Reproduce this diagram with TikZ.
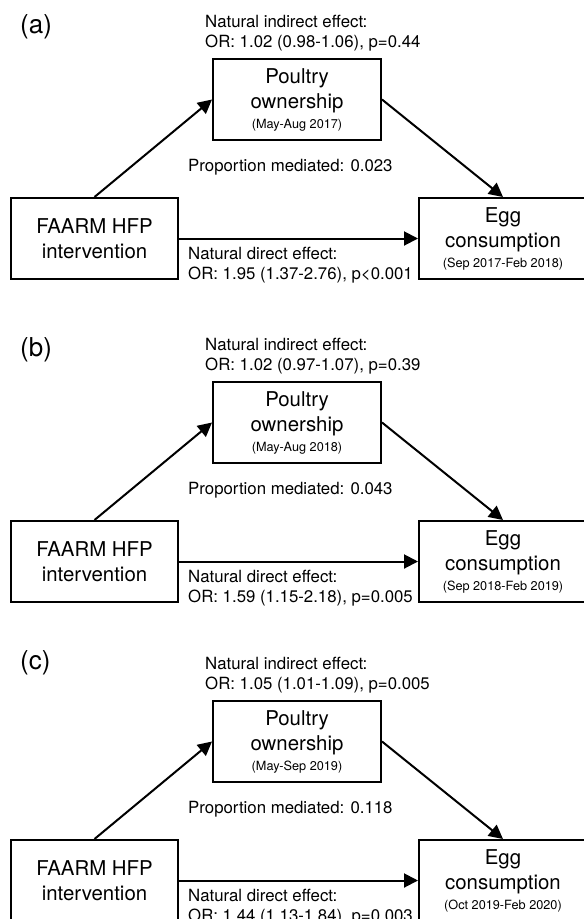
\documentclass[tikz,border=0pt]{standalone}
\usepackage{fontspec}
\setmainfont{TeX Gyre Heros}
\usetikzlibrary{arrows.meta}
\newcommand\period[1]{\\[-5pt]{\fontsize{12.7}{15}\selectfont #1}}
\begin{document}
\begin{tikzpicture}[x=1pt,y=-1pt,
box/.style={draw,line width=2pt,minimum width=168pt,minimum height=81pt,inner sep=0pt,align=center,font=\fontsize{20.4}{25}\selectfont},
eff/.style={anchor=north west,inner sep=0pt,align=left,font=\fontsize{16.8}{20}\selectfont},
lab/.style={anchor=west,inner sep=0pt,font=\fontsize{26}{30}\selectfont},
arr/.style={line width=2pt,-{Triangle[length=14pt,width=14pt]}}]
\useasboundingbox(0,0)rectangle(584,919);
\clip(0,0)rectangle(584,919);
\begin{scope}
\node[lab](labA)at(20,27){(a)};
\node[eff](nieA)at(205,15){Natural indirect effect:\\OR: 1.02 (0.98-1.06), p=0.44};
\node[box](pouA)at(297,99.5){Poultry\\ownership\period{(May-Aug 2017)}};
\node[eff,anchor=west](pmA)at(188,167){Proportion mediated: 0.023};
\node[box,minimum width=167pt](farA)at(94.5,238.5){FAARM HFP\\intervention};
\node[box](eggA)at(503,238.5){Egg\\consumption\period{(Sep 2017-Feb 2018)}};
\node[eff](ndeA)at(188,247){Natural direct effect:\\OR: 1.95 (1.37-2.76), p<0.001};
\draw[arr](farA.north)--(pouA.west);
\draw[arr](pouA.east)--(eggA.north);
\draw[arr](farA)--(eggA);
\end{scope}
\begin{scope}[shift={(0,323)}]
\node[lab](labB)at(20,27){(b)};
\node[eff](nieB)at(205,15){Natural indirect effect:\\OR: 1.02 (0.97-1.07), p=0.39};
\node[box](pouB)at(297,99.5){Poultry\\ownership\period{(May-Aug 2018)}};
\node[eff,anchor=west](pmB)at(188,167){Proportion mediated: 0.043};
\node[box,minimum width=167pt](farB)at(94.5,238.5){FAARM HFP\\intervention};
\node[box](eggB)at(503,238.5){Egg\\consumption\period{(Sep 2018-Feb 2019)}};
\node[eff](ndeB)at(188,247){Natural direct effect:\\OR: 1.59 (1.15-2.18), p=0.005};
\draw[arr](farB.north)--(pouB.west);
\draw[arr](pouB.east)--(eggB.north);
\draw[arr](farB)--(eggB);
\end{scope}
\begin{scope}[shift={(0,642)}]
\node[lab](labC)at(20,21){(c)};
\node[eff](nieC)at(205,15){Natural indirect effect:\\OR: 1.05 (1.01-1.09), p=0.005};
\node[box](pouC)at(297,99.5){Poultry\\ownership\period{(May-Sep 2019)}};
\node[eff,anchor=west](pmC)at(188,167){Proportion mediated: 0.118};
\node[box,minimum width=167pt](farC)at(94.5,238.5){FAARM HFP\\intervention};
\node[box](eggC)at(503,238.5){Egg\\consumption\period{(Oct 2019-Feb 2020)}};
\node[eff](ndeC)at(188,247){Natural direct effect:\\OR: 1.44 (1.13-1.84), p=0.003};
\draw[arr](farC.north)--(pouC.west);
\draw[arr](pouC.east)--(eggC.north);
\draw[arr](farC)--(eggC);
\end{scope}
\end{tikzpicture}
\end{document}
